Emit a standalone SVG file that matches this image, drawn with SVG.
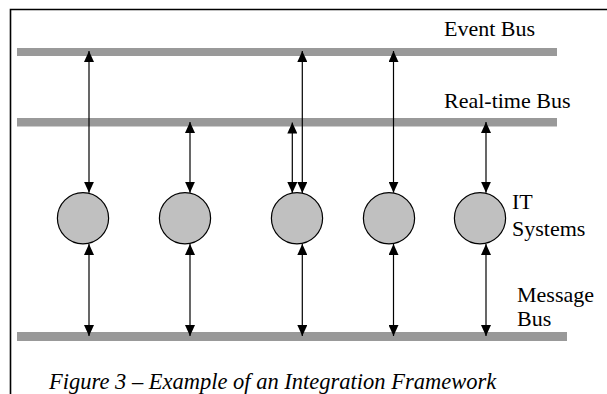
<svg xmlns="http://www.w3.org/2000/svg" width="607" height="394" viewBox="0 0 607 394">
  <style>
    .bus { fill: #999999; }
    .sys { fill: #c0c0c0; stroke: #000; stroke-width: 1.2; }
    .conn { stroke: #000; stroke-width: 1.2; fill: none; marker-start: url(#ah); marker-end: url(#ah); }
    .lbl { font-family: "Liberation Serif", "Times New Roman", serif; font-size: 22px; fill: #000; }
    .cap { font-family: "Liberation Serif", "Times New Roman", serif; font-size: 22.5px; font-style: italic; fill: #000; }
  </style>
  <defs>
    <marker id="ah" viewBox="0 0 11 10" refX="11" refY="5" markerWidth="11" markerHeight="10" markerUnits="userSpaceOnUse" orient="auto-start-reverse">
      <path d="M0,0 L11,5 L0,10 z" fill="#000"/>
    </marker>
  </defs>
  <rect width="607" height="394" fill="#fff"/>
  <path d="M10.5,394 V9.5 H607" fill="none" stroke="#000" stroke-width="1.6"/>

  <g id="event-bus">
    <rect class="bus" x="17" y="48" width="540" height="8"/>
    <text class="lbl" x="444" y="36">Event Bus</text>
  </g>
  <g id="realtime-bus">
    <rect class="bus" x="17" y="118" width="540" height="8.5"/>
    <text class="lbl" x="444" y="108">Real-time Bus</text>
  </g>
  <g id="message-bus">
    <rect class="bus" x="17" y="332" width="550" height="9"/>
    <text class="lbl" x="517" y="302">Message</text>
    <text class="lbl" x="517" y="326">Bus</text>
  </g>

  <g id="system-1"><circle class="sys" cx="83" cy="218.3" r="25.6"/></g>
  <g id="system-2"><circle class="sys" cx="185" cy="218.3" r="25.6"/></g>
  <g id="system-3"><circle class="sys" cx="297" cy="218.3" r="25.6"/></g>
  <g id="system-4"><circle class="sys" cx="389" cy="218.3" r="25.6"/></g>
  <g id="system-5"><circle class="sys" cx="480" cy="218.3" r="25.6"/></g>
  <g id="it-systems-label">
    <text class="lbl" x="512" y="209">IT</text>
    <text class="lbl" x="512" y="236">Systems</text>
  </g>

  <g id="connectors">
    <line class="conn" x1="89" y1="51" x2="89" y2="192.7"/>
    <line class="conn" x1="190" y1="122" x2="190" y2="192.7"/>
    <line class="conn" x1="292.3" y1="122.5" x2="292.3" y2="193"/>
    <line class="conn" x1="302.3" y1="51" x2="302.3" y2="193"/>
    <line class="conn" x1="393.5" y1="51" x2="393.5" y2="192.7"/>
    <line class="conn" x1="486" y1="122" x2="486" y2="192.7"/>

    <line class="conn" x1="89" y1="244" x2="89" y2="336"/>
    <line class="conn" x1="190" y1="244" x2="190" y2="336"/>
    <line class="conn" x1="302.3" y1="244" x2="302.3" y2="336"/>
    <line class="conn" x1="393.5" y1="244" x2="393.5" y2="336"/>
    <line class="conn" x1="486" y1="244" x2="486" y2="336"/>
  </g>

  <text class="cap" x="49" y="389">Figure 3 – Example of an Integration Framework</text>
</svg>
